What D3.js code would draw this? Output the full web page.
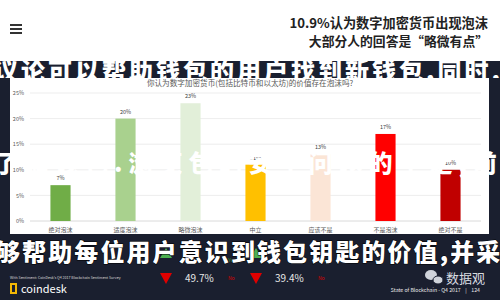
<!DOCTYPE html>
<html><head><meta charset="utf-8">
<script src="https://cdn.jsdelivr.net/npm/d3@7"></script>
<style>
html,body{margin:0;padding:0;background:#fff;width:500px;height:300px;overflow:hidden}
svg{display:block}
text{font-family:"Noto Sans CJK SC","Noto Sans",sans-serif}
</style></head>
<body>
<script>
const categories = ["绝对泡沫","适度泡沫","略微泡沫","中立","应该不是","不是泡沫","绝对不是"];
const values = [7, 20, 23, 11, 13, 17, 10];
const valueLabels = ["7%","20%","23%","11%","13%","17%","10%"];
const yTicks = [0, 5, 10, 15, 20, 25];
const palette = ["#70ad47","#a9d18e","#e2efd9","#ffc000","#fbe5d6","#ff0000","#c00000"];
const headline1 = "10.9%认为数字加密货币出现泡沫";
const headline2 = "大部分人的回答是“略微有点”";
const chartTitle = "你认为数字加密货币(包括比特币和以太坊)的价值存在泡沫吗?";
const overlayTop = "议论可以帮助钱包的用户找到新钱包,同时,钱钥";
const overlayMid = "了解钱包.浏览包的安全问题的了走,前";
const overlayBottom = "够帮助每位用户意识到钱包钥匙的价值,并采";
const yesNo = [{pct:"49.7%"},{pct:"39.4%"}];

const svg = d3.select("body").append("svg").attr("width",500).attr("height",300);
const defs = svg.append("defs");
defs.append("clipPath").attr("id","bandClip").append("rect")
  .attr("x",0).attr("y",61).attr("width",500).attr("height",17);

// header
svg.append("rect").attr("x",0).attr("y",0).attr("width",500).attr("height",61).attr("fill","#fff");
const ham = svg.append("g").attr("fill","#333");
[24,28,32].forEach(y=>ham.append("rect").attr("x",10).attr("y",y).attr("width",12).attr("height",2));
svg.append("text").attr("x",488).attr("y",28).attr("text-anchor","end")
  .attr("font-size",13.2).attr("font-weight",700).attr("fill","#222").text(headline1);
svg.append("text").attr("x",488).attr("y",46).attr("text-anchor","end")
  .attr("font-size",12.8).attr("font-weight",700).attr("fill","#222").text(headline2);

// dark slide background
svg.append("rect").attr("x",0).attr("y",61).attr("width",500).attr("height",239).attr("fill","#1a1f2f");

// overlay top (white text, only visible on the dark band)
svg.append("g").attr("clip-path","url(#bandClip)")
  .append("text").attr("x",-6).attr("y",80).attr("font-size",24).attr("font-weight",900)
  .attr("fill","#fff").attr("letter-spacing",3).text(overlayTop);

// white chart panel
svg.append("rect").attr("x",10).attr("y",78).attr("width",479).attr("height",156).attr("fill","#fff");

svg.append("text").attr("x",250).attr("y",86).attr("text-anchor","middle")
  .attr("font-size",7.6).attr("fill","#595959").text(chartTitle);

const x = d3.scaleBand().domain(categories).range([28,483]).paddingInner(0.69).paddingOuter(0.345);
const y = d3.scaleLinear().domain([0,25]).range([221,93]);

const grid = svg.append("g");
grid.selectAll("line").data(yTicks).join("line")
  .attr("x1",30).attr("x2",481).attr("y1",d=>y(d)).attr("y2",d=>y(d))
  .attr("stroke",d=>d===0?"#d0d0d0":"#e8e8e8").attr("stroke-width",0.8);

const yAxis = svg.append("g").attr("transform","translate(24,0)")
  .call(d3.axisLeft(y).tickValues(yTicks).tickFormat(d=>d+"%").tickSize(0).tickPadding(0));
yAxis.select(".domain").remove();
yAxis.selectAll("text").attr("font-size",5.5).attr("fill","#595959").attr("font-family","Liberation Sans, sans-serif");

svg.append("g").selectAll("rect").data(values).join("rect")
  .attr("x",(d,i)=>x(categories[i])).attr("width",x.bandwidth())
  .attr("y",d=>y(d)).attr("height",d=>y(0)-y(d)).attr("fill",(d,i)=>palette[i]);

svg.append("g").selectAll("text").data(values).join("text")
  .attr("x",(d,i)=>x(categories[i])+x.bandwidth()/2).attr("y",d=>y(d)-5)
  .attr("text-anchor","middle").attr("font-size",5.5).attr("fill","#404040")
  .attr("font-family","Liberation Sans, sans-serif").text((d,i)=>valueLabels[i]);

const xAxis = svg.append("g").attr("transform","translate(0,221)")
  .call(d3.axisBottom(x).tickSize(0).tickPadding(7));
xAxis.select(".domain").remove();
xAxis.selectAll("text").attr("font-size",6).attr("fill","#595959");

// overlay middle (white text, visible on bars / dark)
svg.append("text").attr("x",-6).attr("y",172).attr("font-size",24).attr("font-weight",900)
  .attr("fill","#fff").attr("letter-spacing",6).text(overlayMid);

// bottom slide elements
svg.append("text").attr("x",10).attr("y",279).attr("font-size",3.6).attr("fill","#ddd")
  .attr("font-family","Liberation Serif, serif").text("With Sentiment: CoinDesk's Q4 2017 Blockchain Sentiment Survey");
svg.append("rect").attr("x",10).attr("y",283).attr("width",7).attr("height",11).attr("fill","#f2b705");
svg.append("rect").attr("x",12).attr("y",285).attr("width",3).attr("height",7).attr("fill","#1a1f2f");
svg.append("text").attr("x",21).attr("y",293).attr("font-size",11).attr("fill","#fff")
  .attr("font-family","Liberation Sans, sans-serif").text("coindesk");

const pairX = [166, 256];
pairX.forEach((px,i)=>{
  svg.append("path").attr("d",`M${px-6},258 L${px+6},258 L${px},248 Z`).attr("fill","#4caf50");
  svg.append("path").attr("d",`M${px-6},273 L${px+6},273 L${px},284 Z`).attr("fill","#e00000");
  svg.append("text").attr("x",px+19).attr("y",282).attr("font-size",10).attr("fill","#e8e8e8")
    .attr("font-family","Liberation Serif, serif").text(yesNo[i].pct);
  svg.append("text").attr("x",px+62).attr("y",262).attr("font-size",5).attr("fill","#3e9c35")
    .attr("font-family","Liberation Serif, serif").text("Yes");
  svg.append("text").attr("x",px+62).attr("y",280).attr("font-size",5).attr("fill","#d00")
    .attr("font-family","Liberation Serif, serif").text("No");
});

// overlay bottom
svg.append("text").attr("x",-4).attr("y",261).attr("font-size",24).attr("font-weight",900)
  .attr("fill","#fff").attr("stroke","#000").attr("stroke-width",1).attr("paint-order","stroke")
  .attr("letter-spacing",2.1).text(overlayBottom);

// wechat mark
const wc = svg.append("g").attr("fill","#cfd3da");
wc.append("ellipse").attr("cx",431).attr("cy",275).attr("rx",6).attr("ry",5);
wc.append("ellipse").attr("cx",438).attr("cy",280).attr("rx",5).attr("ry",4).attr("stroke","#1a1f2f").attr("stroke-width",1);
svg.append("text").attr("x",446).attr("y",283).attr("font-size",13).attr("fill","#d8dbe0").text("数据观");
svg.append("text").attr("x",480).attr("y",292).attr("text-anchor","end").attr("font-size",5.2)
  .attr("fill","#e8e8e8").attr("font-family","Liberation Serif, serif")
  .attr("xml:space","preserve").text("State of Blockchain - Q4 2017    |    124");
</script>
</body></html>
